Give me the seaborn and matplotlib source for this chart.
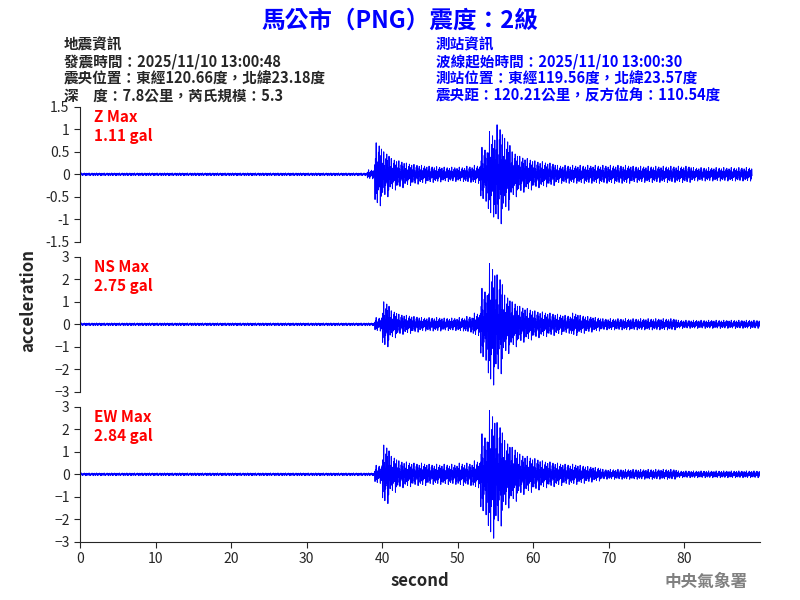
import numpy as np
import matplotlib
matplotlib.use("Agg")
import matplotlib.pyplot as plt
import seaborn as sns
import pandas as pd

sns.set_style("ticks")
plt.rcParams['font.family'] = ['Noto Sans CJK TC', 'DejaVu Sans']

# per-second amplitude envelopes (gal), seconds 0..89
env_z = [0.03]*38 + [0.1, 0.7, 0.5, 0.35, 0.3, 0.25, 0.22, 0.2, 0.18, 0.17, 0.16, 0.16, 0.16, 0.18, 0.2,
         0.6, 0.95, 1.1, 0.8, 0.5, 0.4, 0.35, 0.3, 0.28, 0.25] + [0.2]*10 + [0.18]*8 + [0.15]*8
env_ns = [0.06]*39 + [0.3, 1.0, 0.6, 0.45, 0.4, 0.35, 0.3, 0.3, 0.3, 0.28, 0.28, 0.3, 0.35, 0.5,
          1.6, 2.7, 2.2, 1.3, 1.0, 0.8, 0.7, 0.6, 0.55, 0.5, 0.45, 0.4, 0.5, 0.4, 0.35, 0.3] + [0.25]*10 + [0.18]*11
env_ew = [0.06]*39 + [0.4, 1.3, 0.8, 0.6, 0.55, 0.5, 0.5, 0.45, 0.45, 0.45, 0.45, 0.5, 0.5, 0.6,
          1.8, 2.84, 2.3, 1.5, 1.2, 0.9, 0.8, 0.7, 0.6, 0.55, 0.5, 0.45, 0.45, 0.4, 0.35, 0.3] + [0.22]*10 + [0.15]*11
# fixed within-second oscillation shape (fraction of envelope)
shape = [0.3, -0.8, 0.5, -0.2, 1.0, -0.6, 0.4, -0.9, 0.2, -0.5, 0.7, -0.3, 0.9, -0.4, 0.6, -1.0, 0.3, -0.7, 0.8, -0.2]

def trace(env):
    t, y = [], []
    n = len(shape)
    for s, a in enumerate(env):
        for k, f in enumerate(shape):
            t.append(s + k / n)
            y.append(a * f)
    return pd.DataFrame({"t": t, "y": y})

panels = [("Z Max\n1.11 gal", env_z, 1.5, [-1.5, -1, -0.5, 0, 0.5, 1, 1.5], ["-1.5", "-1", "-0.5", "0", "0.5", "1", "1.5"]),
          ("NS Max\n2.75 gal", env_ns, 3, [-3, -2, -1, 0, 1, 2, 3], None),
          ("EW Max\n2.84 gal", env_ew, 3, [-3, -2, -1, 0, 1, 2, 3], None)]

fig = plt.figure(figsize=(8, 6), dpi=100)
bottoms = [0.597, 0.347, 0.097]
for i, (lab, env, lim, ticks, tl) in enumerate(panels):
    ax = fig.add_axes([0.1, bottoms[i], 0.85, 0.225])
    sns.lineplot(data=trace(env), x="t", y="y", ax=ax, color="blue", linewidth=0.7)
    ax.set_xlim(0, 90)
    ax.set_ylim(-lim, lim)
    ax.set_yticks(ticks)
    if tl:
        ax.set_yticklabels(tl)
    ax.set_xlabel("")
    ax.set_ylabel("")
    for sp in ["top", "right"]:
        ax.spines[sp].set_visible(False)
    if i < 2:
        ax.spines["bottom"].set_visible(False)
        ax.set_xticks([])
    else:
        ax.set_xticks(range(0, 90, 10))
        ax.set_xlabel("second", fontsize=12, fontweight="bold")
    ax.tick_params(labelsize=10, length=4)
    ax.text(0.02, 0.98, lab, transform=ax.transAxes, color="red", fontsize=11, va="top", fontweight="bold")

fig.text(0.035, 0.5, "acceleration", rotation=90, va="center", ha="center", fontsize=12, fontweight="bold")
fig.text(0.5, 0.965, "馬公市（PNG）震度：2級", color="blue", fontsize=17, fontweight="bold", ha="center", va="center")
fig.text(0.08, 0.94, "地震資訊\n發震時間：2025/11/10 13:00:48\n震央位置：東經120.66度，北緯23.18度\n深　度：7.8公里，芮氏規模：5.3",
         fontsize=10.5, va="top", linespacing=1.1, fontweight="bold")
fig.text(0.545, 0.94, "測站資訊\n波線起始時間：2025/11/10 13:00:30\n測站位置：東經119.56度，北緯23.57度\n震央距：120.21公里，反方位角：110.54度",
         fontsize=10.5, va="top", linespacing=1.1, color="blue", fontweight="bold")
fig.text(0.935, 0.03, "中央氣象署", color="gray", fontsize=12, ha="right", va="center", fontweight="bold")

fig.savefig("out.png", dpi=100)
